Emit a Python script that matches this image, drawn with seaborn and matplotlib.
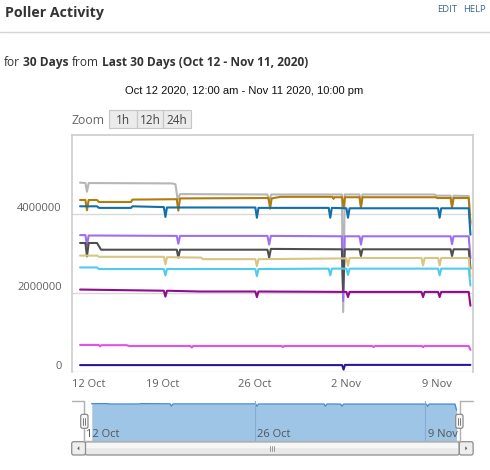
import numpy as np
import pandas as pd
import seaborn as sns
import matplotlib
matplotlib.use("Agg")
import matplotlib.pyplot as plt
import matplotlib.dates as mdates
from matplotlib.patches import FancyBboxPatch, Rectangle, Polygon
from matplotlib.ticker import FuncFormatter

# DATA  (x = days after Oct 12 2020 00:00, y = millions)
START = pd.Timestamp("2020-10-12 00:00")

gray_d = [0.64, 1.05, 1.17, 1.3, 7.7, 7.95, 8.12, 8.3, 15.0, 15.13, 15.28, 20.7, 20.8, 20.92,
          22.05, 22.16, 22.28, 27.8, 27.95, 29.03, 29.14, 29.26, 30.42, 30.55]
gray_v = [4.80, 4.79, 4.57, 4.79, 4.78, 4.76, 4.36, 4.51, 4.50, 4.31, 4.50, 4.50, 1.52, 4.50,
          4.50, 4.23, 4.50, 4.50, 4.47, 4.47, 4.19, 4.47, 4.46, 3.70]

brown_d = [0.64, 1.05, 1.17, 1.3, 1.94, 2.09, 4.55, 4.65, 8.05, 8.17, 8.3, 15.08, 15.2, 15.32, 16.0,
           19.98, 20.06, 20.14, 20.72, 20.83, 20.94, 22.05, 22.16, 22.28, 27.9, 28.0, 29.03, 29.14,
           29.26, 30.42, 30.55]
brown_v = [4.36, 4.36, 4.10, 4.36, 4.36, 4.31, 4.31, 4.37, 4.38, 4.09, 4.40, 4.41, 4.14, 4.40, 4.44,
           4.44, 4.39, 4.43, 4.43, 4.16, 4.43, 4.43, 4.16, 4.43, 4.43, 4.41, 4.41, 4.17, 4.41, 4.41,
           3.78]

blue_d = [0.64, 1.94, 2.09, 4.55, 4.65, 7.06, 7.18, 7.3, 14.07, 14.19, 14.31, 19.69, 19.81, 19.93,
          21.05, 21.17, 21.29, 28.07, 28.19, 28.31, 30.42, 30.55]
blue_v = [4.20, 4.20, 4.16, 4.16, 4.20, 4.18, 3.93, 4.17, 4.17, 3.91, 4.16, 4.16, 3.91, 4.16,
          4.15, 3.91, 4.15, 4.15, 3.91, 4.15, 4.15, 3.48]

purple_d = [0.64, 1.05, 1.17, 1.3, 8.05, 8.17, 8.3, 15.0, 15.13, 15.26, 20.7, 20.8, 20.92,
            22.05, 22.16, 22.28, 29.03, 29.14, 29.26, 30.42, 30.55]
purple_v = [3.47, 3.47, 3.21, 3.46, 3.45, 3.25, 3.45, 3.45, 3.23, 3.45, 3.44, 1.80, 3.44,
            3.44, 3.23, 3.44, 3.44, 3.24, 3.44, 3.44, 2.89]

dgray_d = [0.64, 1.05, 1.17, 1.3, 1.94, 2.25, 8.05, 8.17, 8.3, 15.0, 15.13, 15.26, 20.7, 20.8,
           20.92, 22.05, 22.16, 22.28, 29.03, 29.14, 29.26, 30.42, 30.55]
dgray_v = [3.27, 3.27, 2.93, 3.27, 3.27, 3.10, 3.10, 2.90, 3.10, 3.10, 2.90, 3.12, 3.11, 2.05,
           3.11, 3.11, 2.94, 3.11, 3.11, 2.94, 3.11, 3.11, 2.62]

khaki_d = [0.64, 1.94, 2.09, 7.06, 7.18, 7.3, 9.9, 10.05, 14.07, 14.19, 14.31, 21.05, 21.17, 21.29,
           26.8, 26.92, 27.04, 28.07, 28.19, 28.31, 30.42, 30.55]
khaki_v = [2.95, 2.95, 2.92, 2.92, 2.73, 2.91, 2.90, 2.86, 2.86, 2.68, 2.86, 2.88, 2.69, 2.89,
           2.89, 2.70, 2.89, 2.89, 2.70, 2.89, 2.89, 2.41]

lblue_d = [0.64, 1.94, 2.09, 7.06, 7.18, 7.3, 14.07, 14.19, 14.31, 19.69, 19.81, 19.93, 21.05,
           21.17, 21.29, 28.07, 28.19, 28.31, 30.42, 30.55]
lblue_v = [2.65, 2.65, 2.61, 2.61, 2.45, 2.61, 2.61, 2.43, 2.61, 2.62, 2.45, 2.62, 2.62,
           2.46, 2.62, 2.62, 2.45, 2.62, 2.62, 2.19]

dmag_d = [0.64, 7.06, 7.18, 7.3, 9.85, 14.07, 14.19, 14.31, 21.05, 21.17, 21.29, 26.8, 26.92, 27.04,
          28.07, 28.19, 28.31, 30.42, 30.55]
dmag_v = [2.09, 2.06, 1.91, 2.06, 2.04, 2.04, 1.90, 2.04, 2.03, 1.90, 2.03, 2.03, 1.90, 2.03,
          2.03, 1.90, 2.03, 2.03, 1.68]

mag_d = [0.64, 2.07, 2.17, 2.27, 4.2, 4.4, 9.1, 9.2, 9.3, 16.08, 16.18, 16.28, 23.03, 23.13, 23.23,
         26.82, 26.92, 27.02, 30.42, 30.55]
mag_v = [0.685, 0.685, 0.65, 0.68, 0.68, 0.66, 0.66, 0.62, 0.66, 0.66, 0.63, 0.66, 0.66, 0.63, 0.66,
         0.66, 0.63, 0.66, 0.66, 0.56]

indigo_d = [0.64, 20.72, 20.83, 20.94, 30.55]
indigo_v = [0.175, 0.175, 0.06, 0.18, 0.18]

series = {
    "gray": (gray_d, gray_v),
    "brown": (brown_d, brown_v),
    "blue": (blue_d, blue_v),
    "purple": (purple_d, purple_v),
    "dgray": (dgray_d, dgray_v),
    "khaki": (khaki_d, khaki_v),
    "lblue": (lblue_d, lblue_v),
    "dmag": (dmag_d, dmag_v),
    "mag": (mag_d, mag_v),
    "indigo": (indigo_d, indigo_v),
}
palette = {
    "gray": "#b6b6b6", "brown": "#b27c0c", "blue": "#1170aa", "purple": "#9c70ee",
    "dgray": "#4f4f4f", "khaki": "#d8c581", "lblue": "#4fcbf0", "dmag": "#8f0c8f",
    "mag": "#e650e6", "indigo": "#2b169e",
}

xtick_days = [0, 7, 14, 21, 28]
xtick_labels = ["12 Oct", "19 Oct", "26 Oct", "2 Nov", "9 Nov"]
ytick_values = [0, 2000000, 4000000]
nav_tick_days = [0, 14, 28]
nav_tick_labels = ["12 Oct", "26 Oct", "9 Nov"]

rows = []
for name, (d, v) in series.items():
    for di, vi in zip(d, v):
        rows.append((START + pd.Timedelta(days=di), vi * 1e6, name))
df = pd.DataFrame(rows, columns=["time", "value", "series"])

sns.set_style("white")
plt.rcParams["font.family"] = ["Open Sans", "DejaVu Sans"]

W, H = 490, 470
fig = plt.figure(figsize=(W / 100, H / 100), dpi=100)


def box(x0, y0, x1, y1):
    # pixel box (top-down) -> figure fraction rect
    return [x0 / W, 1 - y1 / H, (x1 - x0) / W, (y1 - y0) / H]


# MAIN CHART
ax = fig.add_axes(box(71.7, 135.3, 473.3, 372))
sns.lineplot(data=df, x="time", y="value", hue="series", hue_order=list(series.keys()),
             palette=palette, estimator=None, legend=False, lw=1.5, ax=ax)
ax.set_xlim(START, START + pd.Timedelta(days=30.77))
ax.set_ylim(0, 6000000)
ax.set_xlabel("")
ax.set_ylabel("")
ax.set_yticks(ytick_values)
ax.yaxis.set_major_formatter(FuncFormatter(lambda v, p: f"{int(v)}"))
ax.set_xticks([START + pd.Timedelta(days=d) for d in xtick_days])
ax.set_xticklabels(xtick_labels)
ax.xaxis.get_majorticklabels()[0].set_ha("left")
ax.grid(axis="y", color="#d9d9d9", lw=1)
ax.tick_params(axis="x", length=0, pad=5, labelsize=8, labelcolor="#606060")
ax.tick_params(axis="y", length=4.3, width=1, color="#d0d0d0", pad=2.9, labelsize=8,
               labelcolor="#606060")
for lbl in ax.get_yticklabels():
    lbl.set_va("bottom")
for s in ["top", "right", "left"]:
    ax.spines[s].set_color("#cccccc")
    ax.spines[s].set_linewidth(1.2)
ax.spines["bottom"].set_visible(False)

# NAVIGATOR (blue series)
nav = fig.add_axes(box(72, 401, 473, 441))
nav_t = [START + pd.Timedelta(days=d) for d in blue_d]
nav_v = [v * 1e6 for v in blue_v]
nav.fill_between(nav_t, 0, nav_v, color="#9ec4e6", lw=0)
sns.lineplot(x=nav_t, y=nav_v, color="#4a8bd0", lw=1, ax=nav)
nav.set_xlim(START - pd.Timedelta(days=0.98), START + pd.Timedelta(days=31.9))
nav.set_ylim(0, 4500000)
for d, lab in zip(nav_tick_days, nav_tick_labels):
    t = START + pd.Timedelta(days=d)
    nav.axvline(t, color="#86acd4", lw=0.8, zorder=3)
    nav.annotate(lab, xy=(t, 0), xycoords=("data", "axes fraction"), xytext=(2.5, 4.3),
                 textcoords="offset pixels", fontsize=8, color="#555555", va="baseline", zorder=4)
nav.set_xticks([])
nav.set_yticks([])
nav.set_xlabel("")
nav.set_ylabel("")
for s in nav.spines.values():
    s.set_visible(False)
nav.patch.set_alpha(0)

# OVERLAY (header, zoom buttons, handles, scrollbar)
ov = fig.add_axes([0, 0, 1, 1])
ov.set_xlim(0, W)
ov.set_ylim(H, 0)
ov.axis("off")
ov.patch.set_alpha(0)

ov.text(5, 17.5, "Poller Activity", fontsize=10.2, fontweight="bold", color="#333333", va="baseline")
ov.text(436.7, 11.7, "EDIT", fontsize=6.8, color="#3d6a8c", va="baseline")
ov.text(486, 11.7, "HELP", fontsize=6.8, color="#3d6a8c", va="baseline", ha="right")
ov.plot([0, W], [32.3, 32.3], color="#d6d6d6", lw=1)

renderer = fig.canvas.get_renderer()


def width_px(s, **kw):
    t = ov.text(0, 0, s, **kw)
    w = t.get_window_extent(renderer).width
    t.remove()
    return w


parts = [("for", "normal"), ("30 Days", "bold"), ("from", "normal"),
         ("Last 30 Days (Oct 12 - Nov 11, 2020)", "bold")]
fs = 8.6
space = width_px("a a", fontsize=fs) - width_px("aa", fontsize=fs)
x = 4
for txt, wt in parts:
    t = ov.text(x, 65.7, txt, fontsize=fs, fontweight=wt, color="#333333", va="baseline")
    x += t.get_window_extent(renderer).width + space

ov.text(243.8, 94.3, "Oct 12 2020, 12:00 am - Nov 11 2020, 10:00 pm", fontsize=8.0,
        family=["Liberation Sans", "DejaVu Sans"], color="#111111", ha="center", va="baseline")

ov.text(71, 124, "Zoom", fontsize=8.8, color="#666666", va="baseline")
for x0, x1, lab in [(109.3, 136.7, "1h"), (136.7, 163.3, "12h"), (163.3, 190.7, "24h")]:
    ov.add_patch(Rectangle((x0, 110), x1 - x0, 18.3, fc="#ebebeb", ec="#c6c6c6", lw=0.8))
    ov.text((x0 + x1) / 2, 124, lab, fontsize=8.5, color="#444444", ha="center", va="baseline")

# navigator outline
ov.plot([72, 84.3, 84.3, 459.5, 459.5, 473], [401, 401, 441, 441, 401, 401], color="#b0b0b0", lw=1)

# handles
for hx in [80.7, 455.7]:
    ov.add_patch(FancyBboxPatch((hx, 414.3), 7.3, 14, boxstyle="round,pad=0,rounding_size=2",
                                fc="#f7f7f7", ec="#8a8a8a", lw=0.9, zorder=5))
    for lx in [hx + 2.7, hx + 4.7]:
        ov.plot([lx, lx], [418.3, 424.5], color="#666666", lw=0.6, zorder=6)

# scrollbar
ov.add_patch(FancyBboxPatch((85, 441.7), 374.3, 13.3, boxstyle="round,pad=0,rounding_size=2",
                            fc="#e9e9e9", ec="#8c8c8c", lw=0.9))
ov.add_patch(Rectangle((86, 442.5), 372.3, 5, fc="#f6f6f6", lw=0))
for bx in [71.7, 459.3]:
    ov.add_patch(FancyBboxPatch((bx, 441.7), 13.8, 13.3, boxstyle="round,pad=0,rounding_size=2",
                                fc="#eeeeee", ec="#8c8c8c", lw=0.9))
ov.add_patch(Polygon([[77.3, 448.3], [79.3, 446.3], [79.3, 450.3]], fc="#555555", lw=0))
ov.add_patch(Polygon([[467.3, 448.3], [465.3, 446.3], [465.3, 450.3]], fc="#555555", lw=0))
for gx in [269.5, 271.5, 273.5]:
    ov.plot([gx, gx], [445.5, 451.2], color="#8a8a8a", lw=0.6)

fig.savefig("out.png", dpi=100)
